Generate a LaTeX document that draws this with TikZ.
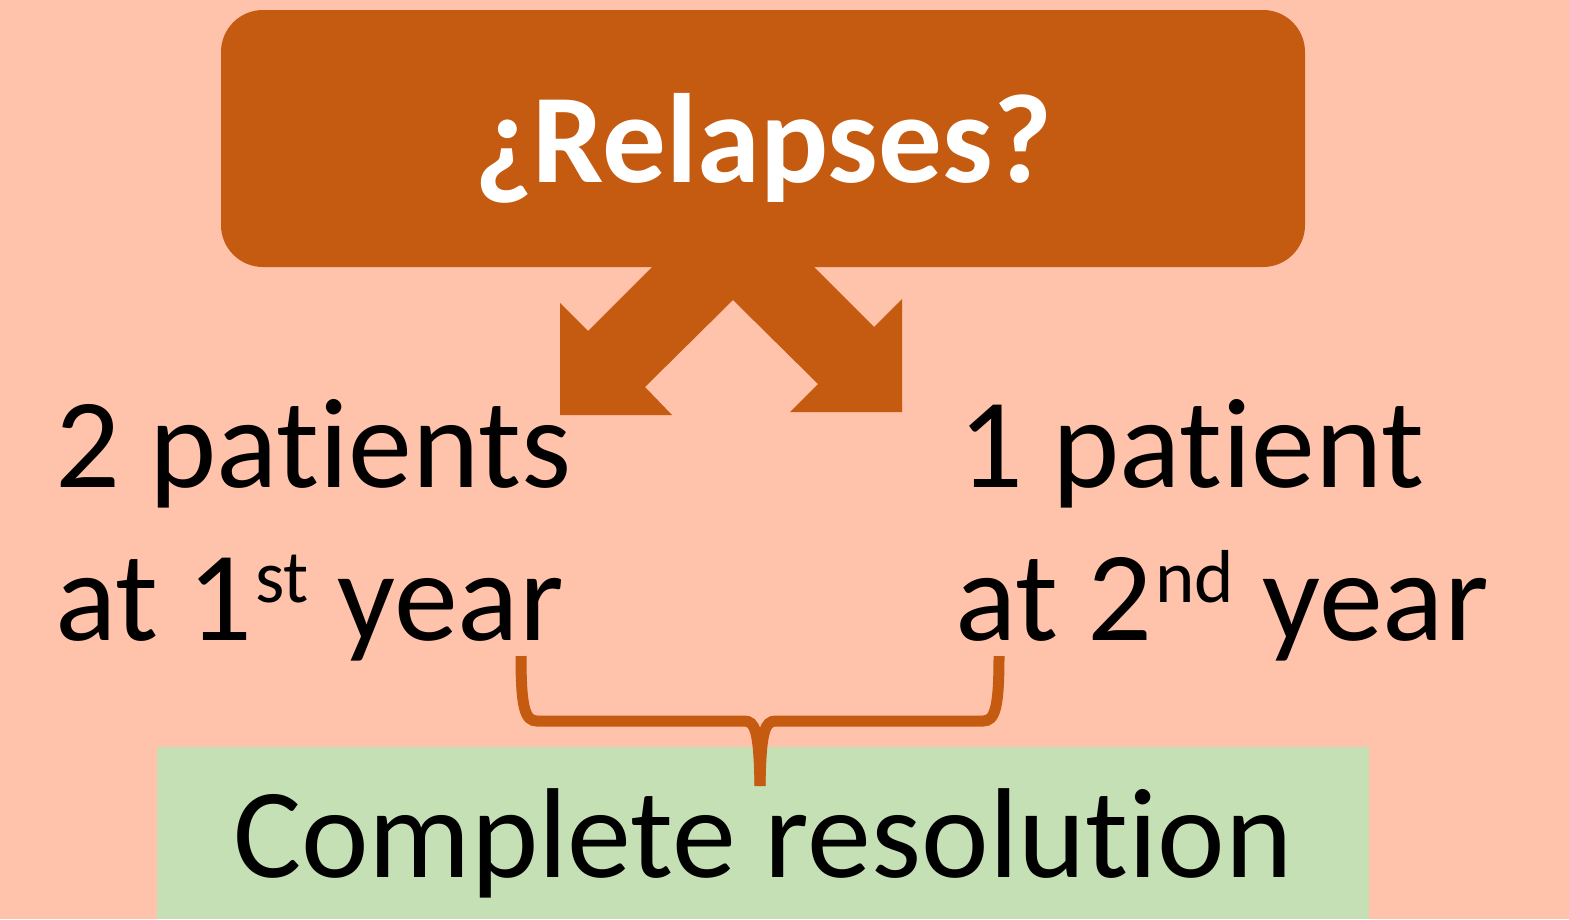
\documentclass[tikz,border=0pt]{standalone}
\usepackage{fontspec}
\setmainfont{Carlito}[Ligatures=CommonOff]
\definecolor{bgc}{HTML}{FFC2AA}
\definecolor{rust}{HTML}{C55A11}
\definecolor{greenc}{HTML}{C5E0B4}
\newcommand\mysup[1]{\hspace{3pt}\raisebox{38pt}{\fontsize{75}{80}\selectfont #1}}
\begin{document}
\begin{tikzpicture}[x=1pt,y=-1pt,
  bigtxt/.style={inner sep=0pt,anchor=base west,font=\fontsize{128}{150}\selectfont,text=black}]
\useasboundingbox (0,0) rectangle (1569,919);
\fill[bgc] (0,0) rectangle (1569,919);
% title box
\fill[rust,rounded corners=42pt] (221,10) rectangle (1305,267);
\node[inner sep=0pt,anchor=base,text=white,font=\bfseries\fontsize{127}{150}\selectfont] (title) at (763,182) {¿Relapses?};
% double arrow
\fill[rust] (660,259) -- (652,267) -- (588,331) -- (560,303) -- (560,415) -- (672,415) -- (645,387)
  -- (733,300) -- (818,384) -- (790,412) -- (902,412) -- (902,299) -- (874,327) -- (814,267) -- (806,259) -- cycle;
% texts
\node[bigtxt] (l1) at (55,487) {2 patients};
\node[bigtxt] (l2) at (55,640) {at 1\mysup{st} year};
\node[bigtxt] (r1) at (958,487) {1 patient};
\node[bigtxt] (r2) at (955,640) {at 2\mysup{nd} year};
% green box
\fill[greenc] (157,747) rectangle (1369,919);
\node[bigtxt,anchor=base] (res) at (763,877) {Complete resolution};
% brace
\coordinate (bl) at (521,656);
\coordinate (br) at (999,656);
\coordinate (bm) at (760,786);
\draw[rust,line width=11pt] (bl) .. controls (521,708) and (525,721) .. (537,721) -- (744,721)
  .. controls (755,721) and (759,730) .. (bm);
\draw[rust,line width=11pt] (br) .. controls (999,708) and (995,721) .. (983,721) -- (776,721)
  .. controls (765,721) and (761,730) .. (bm);
\end{tikzpicture}
\end{document}
